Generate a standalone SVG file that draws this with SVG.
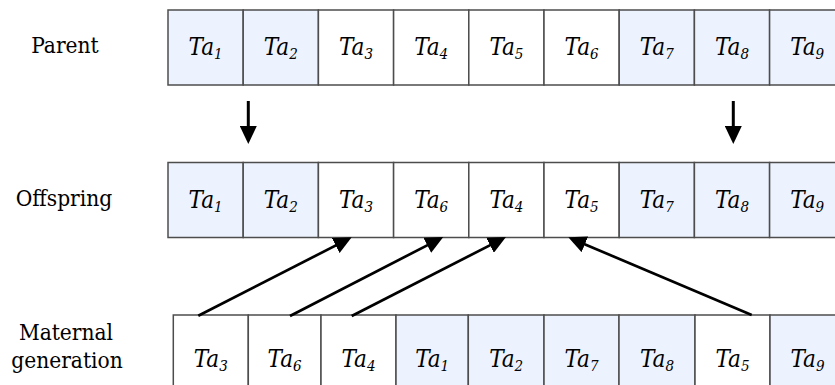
<svg xmlns="http://www.w3.org/2000/svg" width="835" height="385" viewBox="0 0 835 385">
<style>
.cell{stroke:#4d4d4d;stroke-width:1.5;fill:#ffffff}
.blue{fill:#edf3fe}
.ta{font-family:'DejaVu Serif Condensed','DejaVu Serif',serif;font-style:italic;font-size:24px;fill:#000;text-anchor:middle}
.sub{font-size:15px}
.lbl{font-family:'DejaVu Serif Condensed','DejaVu Serif',serif;font-size:22.5px;fill:#000;text-anchor:middle}
.conn{stroke:#000;fill:none}
.v{stroke-width:3}
.d{stroke-width:2.7}
</style>
<defs>
<marker id="ah" markerUnits="userSpaceOnUse" markerWidth="18" markerHeight="17" refX="8" refY="8.5" orient="auto" viewBox="0 0 18 17">
<path d="M0,0 L18,8.5 L0,17 z" fill="#000"/>
</marker>
</defs>
<rect width="835" height="385" fill="#fff"/>
<g id="labels">
<text class="lbl" x="65" y="53">Parent</text>
<text class="lbl" x="64" y="206">Offspring</text>
<text class="lbl" x="66" y="340">Maternal</text>
<text class="lbl" x="67" y="368">generation</text>
</g>
<g id="parent">
<g id="p1"><rect class="cell blue" x="168" y="10" width="75.2" height="75"/><text class="ta" x="205.6" y="55">Ta<tspan class="sub" dy="4">1</tspan></text></g>
<g id="p2"><rect class="cell blue" x="243.2" y="10" width="75.2" height="75"/><text class="ta" x="280.8" y="55">Ta<tspan class="sub" dy="4">2</tspan></text></g>
<g id="p3"><rect class="cell" x="318.4" y="10" width="75.2" height="75"/><text class="ta" x="356" y="55">Ta<tspan class="sub" dy="4">3</tspan></text></g>
<g id="p4"><rect class="cell" x="393.6" y="10" width="75.2" height="75"/><text class="ta" x="431.2" y="55">Ta<tspan class="sub" dy="4">4</tspan></text></g>
<g id="p5"><rect class="cell" x="468.8" y="10" width="75.2" height="75"/><text class="ta" x="506.4" y="55">Ta<tspan class="sub" dy="4">5</tspan></text></g>
<g id="p6"><rect class="cell" x="544" y="10" width="75.2" height="75"/><text class="ta" x="581.6" y="55">Ta<tspan class="sub" dy="4">6</tspan></text></g>
<g id="p7"><rect class="cell blue" x="619.2" y="10" width="75.2" height="75"/><text class="ta" x="656.8" y="55">Ta<tspan class="sub" dy="4">7</tspan></text></g>
<g id="p8"><rect class="cell blue" x="694.4" y="10" width="75.2" height="75"/><text class="ta" x="732" y="55">Ta<tspan class="sub" dy="4">8</tspan></text></g>
<g id="p9"><rect class="cell blue" x="769.6" y="10" width="75.2" height="75"/><text class="ta" x="807.2" y="55">Ta<tspan class="sub" dy="4">9</tspan></text></g>
</g>
<g id="offspring">
<g id="o1"><rect class="cell blue" x="168" y="162.5" width="75.2" height="75"/><text class="ta" x="205.6" y="207.5">Ta<tspan class="sub" dy="4">1</tspan></text></g>
<g id="o2"><rect class="cell blue" x="243.2" y="162.5" width="75.2" height="75"/><text class="ta" x="280.8" y="207.5">Ta<tspan class="sub" dy="4">2</tspan></text></g>
<g id="o3"><rect class="cell" x="318.4" y="162.5" width="75.2" height="75"/><text class="ta" x="356" y="207.5">Ta<tspan class="sub" dy="4">3</tspan></text></g>
<g id="o4"><rect class="cell" x="393.6" y="162.5" width="75.2" height="75"/><text class="ta" x="431.2" y="207.5">Ta<tspan class="sub" dy="4">6</tspan></text></g>
<g id="o5"><rect class="cell" x="468.8" y="162.5" width="75.2" height="75"/><text class="ta" x="506.4" y="207.5">Ta<tspan class="sub" dy="4">4</tspan></text></g>
<g id="o6"><rect class="cell" x="544" y="162.5" width="75.2" height="75"/><text class="ta" x="581.6" y="207.5">Ta<tspan class="sub" dy="4">5</tspan></text></g>
<g id="o7"><rect class="cell blue" x="619.2" y="162.5" width="75.2" height="75"/><text class="ta" x="656.8" y="207.5">Ta<tspan class="sub" dy="4">7</tspan></text></g>
<g id="o8"><rect class="cell blue" x="694.4" y="162.5" width="75.2" height="75"/><text class="ta" x="732" y="207.5">Ta<tspan class="sub" dy="4">8</tspan></text></g>
<g id="o9"><rect class="cell blue" x="769.6" y="162.5" width="75.2" height="75"/><text class="ta" x="807.2" y="207.5">Ta<tspan class="sub" dy="4">9</tspan></text></g>
</g>
<g id="maternal">
<g id="m1"><rect class="cell" x="173.3" y="315" width="75" height="80"/><text class="ta" x="210.8" y="367">Ta<tspan class="sub" dy="4">3</tspan></text></g>
<g id="m2"><rect class="cell" x="248.3" y="315" width="72.7" height="80"/><text class="ta" x="284.6" y="367">Ta<tspan class="sub" dy="4">6</tspan></text></g>
<g id="m3"><rect class="cell" x="321" y="315" width="75" height="80"/><text class="ta" x="358.5" y="367">Ta<tspan class="sub" dy="4">4</tspan></text></g>
<g id="m4"><rect class="cell blue" x="396" y="315" width="72.3" height="80"/><text class="ta" x="432.2" y="367">Ta<tspan class="sub" dy="4">1</tspan></text></g>
<g id="m5"><rect class="cell blue" x="468.3" y="315" width="75.7" height="80"/><text class="ta" x="506.2" y="367">Ta<tspan class="sub" dy="4">2</tspan></text></g>
<g id="m6"><rect class="cell blue" x="544" y="315" width="75" height="80"/><text class="ta" x="581.5" y="367">Ta<tspan class="sub" dy="4">7</tspan></text></g>
<g id="m7"><rect class="cell blue" x="619" y="315" width="76" height="80"/><text class="ta" x="657" y="367">Ta<tspan class="sub" dy="4">8</tspan></text></g>
<g id="m8"><rect class="cell" x="695" y="315" width="75" height="80"/><text class="ta" x="732.5" y="367">Ta<tspan class="sub" dy="4">5</tspan></text></g>
<g id="m9"><rect class="cell blue" x="770" y="315" width="75" height="80"/><text class="ta" x="807.5" y="367">Ta<tspan class="sub" dy="4">9</tspan></text></g>
</g>
<g id="connectors">
<line class="conn v" x1="248.3" y1="101" x2="248.3" y2="134" marker-end="url(#ah)"/>
<line class="conn v" x1="733.3" y1="101" x2="733.3" y2="134" marker-end="url(#ah)"/>
<line class="conn d" x1="198.3" y1="315.7" x2="342.8" y2="241.85" marker-end="url(#ah)"/>
<line class="conn d" x1="290" y1="316" x2="434.4" y2="241.6" marker-end="url(#ah)"/>
<line class="conn d" x1="351.7" y1="316" x2="497.1" y2="241.6" marker-end="url(#ah)"/>
<line class="conn d" x1="751.7" y1="315" x2="577.5" y2="241.2" marker-end="url(#ah)"/>
</g>
</svg>
